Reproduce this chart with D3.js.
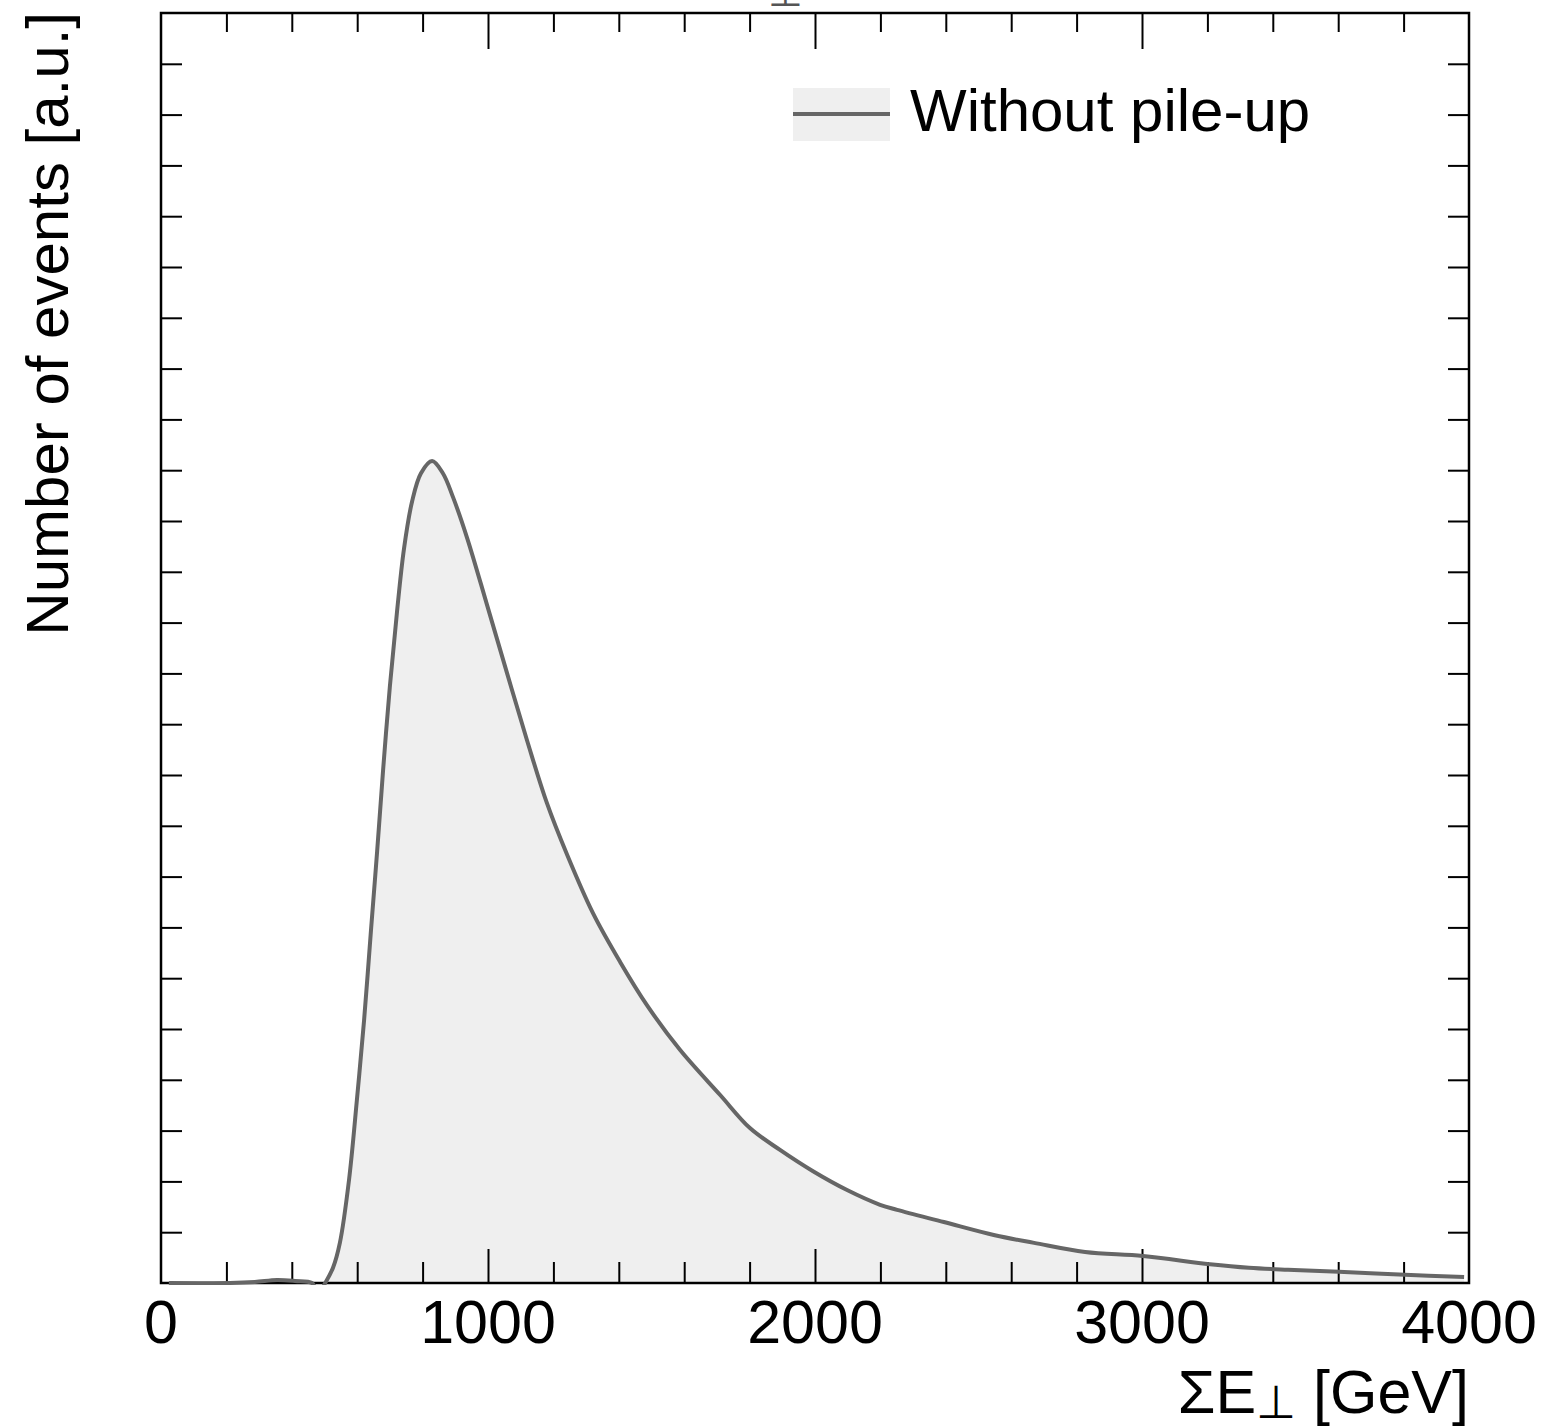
<!DOCTYPE html>
<html lang="en">
<head>
  <meta charset="UTF-8">
  <script src="https://cdn.jsdelivr.net/npm/d3@7/dist/d3.min.js"></script>
  <title>Sum ET without pile-up</title>
  <style>
    body { margin: 0; background: #fff; }
    text { font-family: "Liberation Sans", Arial, Helvetica, sans-serif; fill: #000; }
  </style>
</head>
<body>
  <svg width="1545" height="1426" id="chart"></svg>
  <script>
    // data (x in GeV, y in arbitrary units = y tick steps)
    const sumEt  = [24, 211, 287, 355, 410, 462, 482, 502, 526, 547, 575, 599, 621, 642, 661, 679, 700, 722, 743, 768, 795, 829, 862, 893, 936, 997, 1058, 1119, 1180, 1242, 1321, 1404, 1486, 1587, 1710, 1801, 1893, 1994, 2098, 2199, 2251, 2394, 2550, 2670, 2826, 3003, 3208, 3327, 3446, 3602, 3804, 3985];
    const events = [0, 0, 0.02, 0.06, 0.04, 0, -0.2, 0, 0.3, 0.79, 2.03, 3.6, 5.17, 6.93, 8.5, 10.08, 11.75, 13.23, 14.45, 15.39, 15.94, 16.18, 15.94, 15.47, 14.67, 13.35, 12.01, 10.69, 9.45, 8.43, 7.28, 6.32, 5.47, 4.59, 3.7, 3.05, 2.62, 2.2, 1.83, 1.54, 1.44, 1.2, 0.94, 0.79, 0.61, 0.53, 0.37, 0.3, 0.26, 0.22, 0.16, 0.12];

    const xMajor = [0, 1000, 2000, 3000, 4000];
    const xMinor = d3.range(200, 4000, 200).filter(v => v % 1000 != 0);
    const yTicks = d3.range(1, 25);
    const legendLabel = "Without pile-up";

    const data = sumEt.map((v, i) => ({x: v, y: events[i]}));

    let svg = d3.select("#chart");
    const pLeft = 161, pRight = 1469, pTop = 13, pBottom = 1283;

    let x = d3.scaleLinear().domain([0, 4000]).range([pLeft, pRight]);
    let y = d3.scaleLinear().domain([0, 25]).range([pBottom, pTop]);

    let defs = svg.append("defs");
    defs.append("clipPath").attr("id", "clipArea")
      .append("rect").attr("x", pLeft).attr("y", pTop).attr("width", pRight - pLeft).attr("height", pBottom - pTop);
    defs.append("clipPath").attr("id", "clipLine")
      .append("rect").attr("x", pLeft).attr("y", pTop).attr("width", pRight - pLeft).attr("height", pBottom - pTop + 2);

    const smooth = d3.curveCatmullRom.alpha(0.5);

    /* FILLED HISTOGRAM */
    let area = d3.area().x(d => x(d.x)).y0(y(0)).y1(d => y(d.y)).curve(smooth);
    svg.append("path").datum(data)
      .attr("d", area)
      .attr("fill", "#efefef")
      .attr("clip-path", "url(#clipArea)");

    /* AXES (ticks only, frame drawn separately) */
    function ticks(axis) {
      return g => { g.call(axis); g.select(".domain").remove(); g.selectAll("text").remove();
        g.selectAll("line").attr("stroke", "#000").attr("stroke-width", 2); };
    }
    svg.append("g").attr("transform", `translate(0,${pBottom})`)
      .call(ticks(d3.axisBottom(x).tickValues(xMinor).tickSize(-21)));
    svg.append("g").attr("transform", `translate(0,${pBottom})`)
      .call(ticks(d3.axisBottom(x).tickValues(xMajor.slice(1, -1)).tickSize(-34)));
    svg.append("g").attr("transform", `translate(0,${pTop})`)
      .call(ticks(d3.axisTop(x).tickValues(xMinor).tickSize(-19)));
    svg.append("g").attr("transform", `translate(0,${pTop})`)
      .call(ticks(d3.axisTop(x).tickValues(xMajor.slice(1, -1)).tickSize(-36)));
    svg.append("g").attr("transform", `translate(${pLeft},0)`)
      .call(ticks(d3.axisLeft(y).tickValues(yTicks).tickSize(-21)));
    svg.append("g").attr("transform", `translate(${pRight},0)`)
      .call(ticks(d3.axisRight(y).tickValues(yTicks).tickSize(-21)));

    // frame
    svg.append("rect")
      .attr("x", pLeft).attr("y", pTop)
      .attr("width", pRight - pLeft).attr("height", pBottom - pTop)
      .attr("fill", "none").attr("stroke", "#000").attr("stroke-width", 2.5);

    /* LINE */
    let line = d3.line().x(d => x(d.x)).y(d => y(d.y)).curve(smooth);
    svg.append("path").datum(data)
      .attr("d", line)
      .attr("fill", "none")
      .attr("stroke", "#666")
      .attr("stroke-width", 4)
      .attr("clip-path", "url(#clipLine)");

    /* TICK LABELS */
    svg.selectAll(".xlab").data(xMajor).enter().append("text")
      .attr("x", d => x(d)).attr("y", 1343)
      .attr("text-anchor", "middle")
      .style("font-size", "61px")
      .text(d => d);

    /* AXIS TITLES */
    let xt = svg.append("text")
      .attr("x", pRight).attr("y", 1413)
      .attr("text-anchor", "end")
      .style("font-size", "61px");
    xt.append("tspan").text("ΣE");
    xt.append("tspan").attr("dy", 5).style("font-size", "46px").text("⊥");
    xt.append("tspan").attr("dy", -5).text(" [GeV]");

    svg.append("text")
      .attr("transform", "translate(68,12) rotate(-90)")
      .attr("text-anchor", "end")
      .style("font-size", "60px")
      .text("Number of events [a.u.]");

    // cut-off fragment of the title above the frame
    svg.append("text")
      .attr("x", 785).attr("y", 6)
      .attr("text-anchor", "middle")
      .style("font-size", "40px")
      .style("fill", "#555")
      .text("⊥");

    /* LEGEND */
    let legend = svg.append("g");
    legend.append("rect")
      .attr("x", 793).attr("y", 88).attr("width", 97).attr("height", 53)
      .attr("fill", "#efefef");
    legend.append("line")
      .attr("x1", 793).attr("x2", 890).attr("y1", 114).attr("y2", 114)
      .attr("stroke", "#666").attr("stroke-width", 4);
    legend.append("text")
      .attr("x", 910).attr("y", 131)
      .style("font-size", "60px")
      .text(legendLabel);
  </script>
</body>
</html>
